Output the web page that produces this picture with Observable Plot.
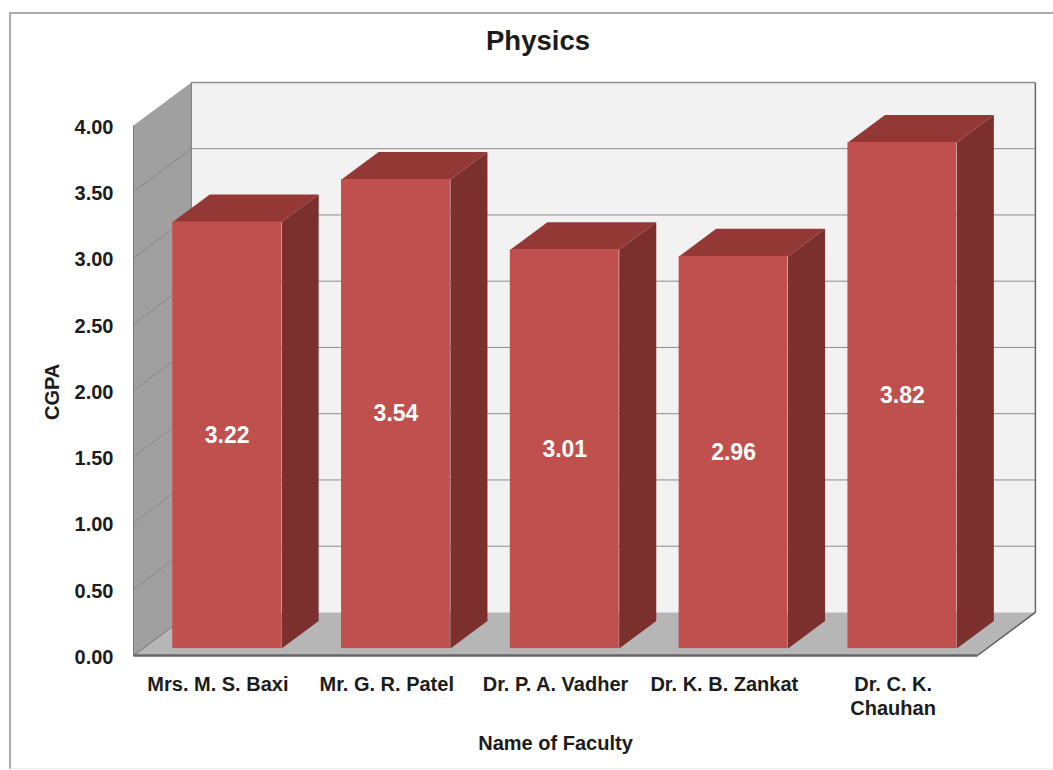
<!DOCTYPE html>
<html>
<head>
<meta charset="utf-8">
<title>Physics</title>
<script src="https://cdn.jsdelivr.net/npm/d3@7"></script>
<script src="https://cdn.jsdelivr.net/npm/@observablehq/plot@0.6"></script>
<style>
  html, body { margin: 0; padding: 0; background: #fff; overflow: hidden; }
  #page { position: relative; width: 1053px; height: 770px; overflow: hidden;
          font-family: "Liberation Sans", Arial, sans-serif; }
  #border { position: absolute; left: 9px; top: 12px; right: -4px; bottom: 1px;
            border: 2px solid #ababab; border-bottom: 1px solid #ececec; border-right: none; pointer-events: none; }
  #heading { position: absolute; left: 0; top: 24px; width: 1076px; text-align: center;
             font-size: 27.5px; font-weight: bold; color: #1c1c1c; line-height: 34px; }
  #chart { position: absolute; left: 0; top: 70px; }
  #chart svg { display: block; }
</style>
</head>
<body>
<div id="page">
  <div id="border"></div>
  <div id="heading">Physics</div>
  <div id="chart"></div>
</div>
<script>
// Faculty names and their CGPA scores
const faculty = ["Mrs. M. S. Baxi", "Mr. G. R. Patel", "Dr. P. A. Vadher", "Dr. K. B. Zankat", "Dr. C. K.\nChauhan"];
const cgpa = [3.22, 3.54, 3.01, 2.96, 3.82];
const cgpaTicks = [0, 0.5, 1, 1.5, 2, 2.5, 3, 3.5, 4];
const slots = faculty.map((_, i) => i);

// Oblique projection: depth 0 is the front plane, depth 1 the back wall.
// Offsets are expressed in scale units (category slots and CGPA points).
const depthX = 0.343;
const depthY = 0.325;
const barWidth = 0.645;
const barFront = 0.16;
const barBack = 0.8;
const xMin = -0.5, xMax = 4.5;

const at = (x, y, d) => ({x: x + depthX * d, y: y + depthY * d});
const polygon = (id, corners) => corners.map(([x, y, d]) => ({id, ...at(x, y, d)}));

const backWall = polygon("back", [[xMin, 0, 1], [xMax, 0, 1], [xMax, 4, 1], [xMin, 4, 1]]);
const sideWall = polygon("side", [[xMin, 0, 0], [xMin, 0, 1], [xMin, 4, 1], [xMin, 4, 0]]);
const floor = polygon("floor", [[xMin, 0, 0], [xMax, 0, 0], [xMax, 0, 1], [xMin, 0, 1]]);

const barSides = slots.flatMap(i => {
  const r = i + barWidth / 2;
  return polygon(`side${i}`, [[r, 0, barFront], [r, 0, barBack], [r, cgpa[i], barBack], [r, cgpa[i], barFront]]);
});
const barTops = slots.flatMap(i => {
  const l = i - barWidth / 2, r = i + barWidth / 2, v = cgpa[i];
  return polygon(`top${i}`, [[l, v, barFront], [r, v, barFront], [r, v, barBack], [l, v, barBack]]);
});

const edge = (a, b) => ({x1: a.x, y1: a.y, x2: b.x, y2: b.y});
const wallGrid = cgpaTicks.slice(1, -1).map(v => edge(at(xMin, v, 0), at(xMin, v, 1)));
const frontBase = [edge(at(xMin, 0, 0), at(xMax, 0, 0))];
const floorRight = [edge(at(xMax, 0, 0), at(xMax, 0, 1))];
const floorLeft = [edge(at(xMin, 0, 0), at(xMin, 0, 1))];
const wallFront = [edge(at(xMin, 0, 0), at(xMin, 4, 0))];
const wallBack = [edge(at(xMin, 0, 1), at(xMin, 4, 1))];
const wallTop = [edge(at(xMin, 4, 1), at(xMax, 4, 1))];
const wallRight = [edge(at(xMax, 0, 1), at(xMax, 4, 1))];

const face = (data, fill) => Plot.line(data, {x: "x", y: "y", z: "id", fill, stroke: null});
const stroke = (data, color, width) => Plot.link(data, {x1: "x1", y1: "y1", x2: "x2", y2: "y2", stroke: color, strokeWidth: width});

const chart = Plot.plot({
  width: 1053,
  height: 700,
  marginLeft: 133,
  marginRight: 76,
  marginTop: 55,
  marginBottom: 115,
  style: {background: "transparent", fontFamily: "'Liberation Sans', Arial, sans-serif"},
  x: {type: "linear", domain: [xMin, xMax], range: [133, 977]},
  y: {domain: [0, 4]},
  marks: [
    face(backWall, "#f2f2f2"),
    face(sideWall, "#a0a0a0"),
    face(floor, "#b6b6b6"),

    Plot.ruleY(cgpaTicks.slice(1, -1), {
      y: v => v + depthY,
      x1: xMin + depthX,
      x2: xMax + depthX,
      stroke: "#8c8c8c",
      strokeWidth: 1
    }),
    stroke(wallGrid, "#8a8a8a", 1),
    stroke(wallTop, "#8f8f8f", 1.5),
    stroke(wallBack, "#7d7d7d", 1),
    stroke(wallRight, "#666", 1.5),
    stroke(floorLeft, "#6f6f6f", 1),
    stroke(floorRight, "#5a5a5a", 1.5),
    stroke(wallFront, "#777", 1),
    stroke(frontBase, "#666", 2.5),

    // Bars: side and top faces behind, the front face from the same values
    face(barSides, "#7b302e"),
    face(barTops, "#933835"),
    Plot.rect(slots, {
      x1: i => i - barWidth / 2 + depthX * barFront,
      x2: i => i + barWidth / 2 + depthX * barFront,
      y1: depthY * barFront,
      y2: i => cgpa[i] + depthY * barFront,
      fill: "#c0504d",
      inset: 0
    }),

    // Value labels centred on the front faces
    Plot.text(slots, {
      x: i => i + depthX * barFront,
      y: i => cgpa[i] / 2 + depthY * barFront,
      text: i => cgpa[i].toFixed(2),
      fill: "white",
      fontSize: 23,
      fontWeight: "bold"
    }),

    Plot.axisY({
      ticks: cgpaTicks,
      tickFormat: d3.format(".2f"),
      tickSize: 0,
      tickPadding: 20,
      label: null,
      fontSize: 20,
      fontWeight: "bold",
      fill: "#1c1c1c",
      dy: 2
    }),
    Plot.axisX({
      ticks: slots,
      tickFormat: i => faculty[i],
      tickSize: 0,
      tickPadding: 18,
      label: null,
      fontSize: 20,
      fontWeight: "bold",
      fill: "#1c1c1c",
      lineHeight: 1.2
    }),

    // Axis titles
    Plot.text(["Name of Faculty"], {
      x: 2,
      y: 0,
      text: d => d,
      dy: 88,
      fontSize: 20,
      fontWeight: "bold",
      fill: "#1c1c1c"
    }),
    Plot.text(["CGPA"], {
      x: xMin,
      y: 1.99,
      text: d => d,
      dx: -81,
      rotate: -90,
      fontSize: 20,
      fontWeight: "bold",
      fill: "#1c1c1c"
    })
  ]
});
document.getElementById("chart").appendChild(chart);
</script>
</body>
</html>
